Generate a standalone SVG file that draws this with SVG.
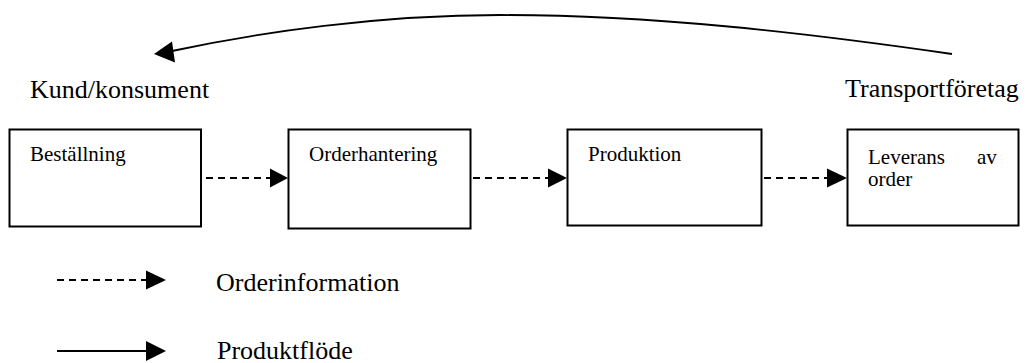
<svg xmlns="http://www.w3.org/2000/svg" width="1026" height="363" viewBox="0 0 1026 363">
<style>
.box{fill:#fff;stroke:#000;stroke-width:2}
.t{font-family:"Liberation Serif","Times New Roman",serif;fill:#000}
.lbl{font-size:26px}
.bt{font-size:21px}
.dash{stroke:#000;stroke-width:2;stroke-dasharray:7 5;fill:none}
.solid{stroke:#000;stroke-width:2;fill:none}
.curve{stroke:#000;stroke-width:1.8;fill:none}
.head{fill:#000}
</style>
<rect width="1026" height="363" fill="#fff"/>
<g id="connectors">
<path class="curve" d="M952 54 C800 32 650 15 500 15 C380 15 260 32 172 51"/>
<polygon class="head" points="154,54 172,41.5 175,62.5"/>
<line class="dash" x1="206" y1="178" x2="270" y2="178"/>
<polygon class="head" points="270,168.5 288,178 270,187.5"/>
<line class="dash" x1="473" y1="178" x2="549" y2="178"/>
<polygon class="head" points="548,168.5 567,178 548,187.5"/>
<line class="dash" x1="764" y1="178" x2="828" y2="178"/>
<polygon class="head" points="827,168.5 847,178 827,187.5"/>
</g>
<g id="kund"><text class="t lbl" x="30" y="98">Kund/konsument</text></g>
<g id="transport"><text class="t lbl" x="845" y="97">Transportföretag</text></g>
<g id="bestallning">
<rect class="box" x="9.5" y="129.5" width="191.5" height="97"/>
<text class="t bt" x="30" y="161">Beställning</text>
</g>
<g id="orderhantering">
<rect class="box" x="288.5" y="129.5" width="182" height="99"/>
<text class="t bt" x="309" y="161">Orderhantering</text>
</g>
<g id="produktion">
<rect class="box" x="567.5" y="129.5" width="194" height="96"/>
<text class="t bt" x="588" y="161">Produktion</text>
</g>
<g id="leverans">
<rect class="box" x="847.5" y="129.5" width="171" height="96"/>
<text class="t bt" x="868" y="164">Leverans</text>
<text class="t bt" x="977" y="164">av</text>
<text class="t bt" x="868" y="186">order</text>
</g>
<g id="legend">
<line class="dash" x1="57" y1="280" x2="146" y2="280"/>
<polygon class="head" points="146,270.5 166,280 146,289.5"/>
<text class="t lbl" x="216" y="291">Orderinformation</text>
<line class="solid" x1="57" y1="351" x2="146" y2="351"/>
<polygon class="head" points="146,341 166,351 146,361"/>
<text class="t lbl" x="217" y="359">Produktflöde</text>
</g>
</svg>
